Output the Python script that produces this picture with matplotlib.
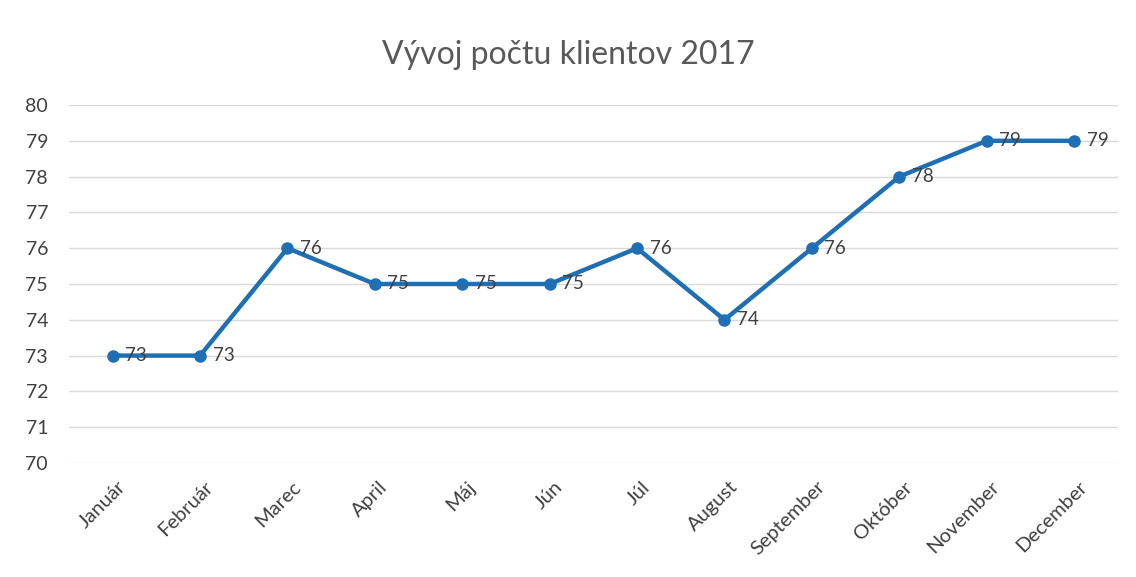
import matplotlib
matplotlib.use("Agg")
import matplotlib.pyplot as plt

months = ['Január', 'Február', 'Marec', 'April', 'Máj', 'Jún', 'Júl',
          'August', 'September', 'Október', 'November', 'December']
clients = [73, 73, 76, 75, 75, 75, 76, 74, 76, 78, 79, 79]
y_ticks = list(range(70, 81))

plt.rcParams['font.family'] = ['Lato', 'DejaVu Sans']

fig = plt.figure(figsize=(11.36, 5.77), dpi=100)
ax = fig.add_axes([0.0607, 0.1976, 0.9233, 0.6204])

x = [i + 0.5 for i in range(len(months))]
ax.plot(x, clients, color='#1F6FB5', linewidth=3.2, marker='o',
        markersize=8, zorder=3)
for xi, v in zip(x, clients):
    ax.annotate(str(v), (xi, v), xytext=(9, 0), textcoords='offset points',
                va='center', ha='left', fontsize=13.5, color='#404040', zorder=4)

ax.set_xlim(0, len(months))
ax.set_ylim(70, 80)
ax.set_yticks(y_ticks)
ax.set_xticks(x)
ax.set_xticklabels([])
# Excel-style rotated category labels: top-right corner just below the tick
for xi, m in zip(x, months):
    ax.annotate(m, (xi, 0), xycoords=('data', 'axes fraction'),
                xytext=(3, -11), textcoords='offset points',
                rotation=45, rotation_mode='anchor', ha='right', va='top',
                fontsize=14.5, color='#404040')
ax.tick_params(axis='y', labelsize=14, labelcolor='#404040', length=0, pad=15)
ax.tick_params(axis='x', length=0)
ax.grid(axis='y', color='#D9D9D9', linewidth=1)
ax.set_axisbelow(True)
for s in ax.spines.values():
    s.set_visible(False)

fig.text(0.5, 0.905, 'Vývoj počtu klientov 2017', ha='center', va='center',
         fontsize=23, color='#595959')

fig.savefig('out.png', dpi=100)
